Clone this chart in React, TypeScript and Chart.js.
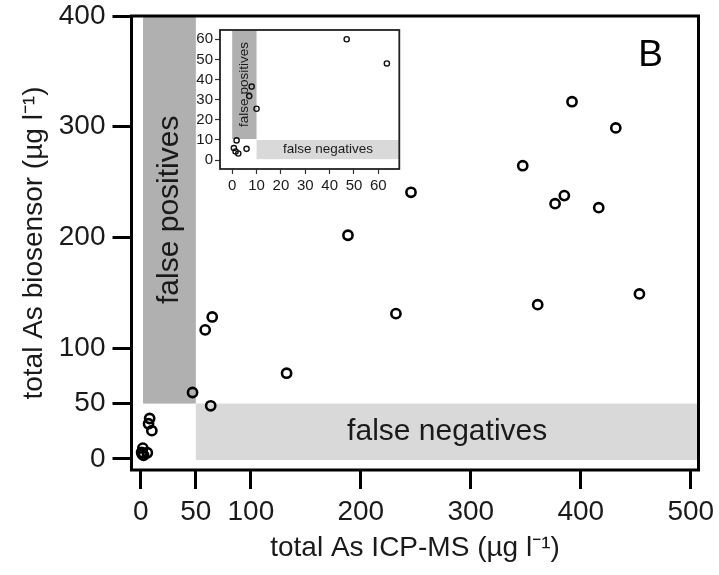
import React, { useEffect, useRef } from "react";
import { Chart, registerables } from "chart.js";

Chart.register(...registerables);

// ---- data (µg/l) ----
const ICPMS = [0.7, 1.4, 1.8, 2.5, 5.9, 7, 8, 10, 47, 63.5, 58.5, 64.9, 132.5, 188.3, 231.9, 245.6, 347.2, 360.8, 376.6, 385, 392, 416.3, 431.8, 453.3];
const BIOSENSOR = [6, 4.3, 9.8, 3.3, 5.6, 31.8, 36.5, 25.5, 60, 48, 116.5, 128.2, 77.4, 202, 131.2, 240.8, 264.8, 139.3, 230.5, 237.8, 322.6, 226.9, 298.9, 149];

// ---- main axes ----
const X_TICKS = [0, 50, 100, 200, 300, 400, 500];
const Y_TICKS = [0, 50, 100, 200, 300, 400];
const X_RANGE = [-8.5, 507];
const Y_RANGE = [-10, 400];

// shaded regions (main)
const FP_X = [2, 50];
const FP_Y = [50, 400];
const FN_X = [50, 507];
const FN_Y = [-1, 50];

// ---- inset axes ----
const INSET_X_TICKS = [0, 10, 20, 30, 40, 50, 60];
const INSET_Y_TICKS = [0, 10, 20, 30, 40, 50, 60];
const INSET_X_RANGE = [-5, 68.6];
const INSET_Y_RANGE = [-4.4, 64.6];
const INSET_FP_X = [0, 10];
const INSET_FP_Y = [10.5, 64.6];
const INSET_FN_X = [10, 68.6];
const INSET_FN_Y = [0.5, 10];

const X_TITLE = "total As ICP-MS (µg l⁻¹)";
const Y_TITLE = "total As biosensor (µg l⁻¹)";
const FP_LABEL = "false positives";
const FN_LABEL = "false negatives";
const PANEL = "B";

const FONT = "'Liberation Sans', Arial, Helvetica, sans-serif";
const DARK = "#b0b0b0";
const LIGHT = "#d9d9d9";
const TEXT = "#1a1a1a";

function points() {
  return ICPMS.map((x, i) => ({ x, y: BIOSENSOR[i] }));
}

function makeRegionPlugin(opts: {
  fpx: number[]; fpy: number[]; fnx: number[]; fny: number[];
  fontSize: number; frameWidth: number; white: boolean; panel?: boolean;
}) {
  return {
    id: "regions",
    beforeDatasetsDraw(chart: any) {
      const { ctx, chartArea, scales } = chart;
      const x = scales.x, y = scales.y;
      ctx.save();
      if (opts.white) {
        ctx.fillStyle = "#ffffff";
        ctx.fillRect(chartArea.left, chartArea.top, chartArea.right - chartArea.left, chartArea.bottom - chartArea.top);
      }
      const rect = (xs: number[], ys: number[], color: string) => {
        const x0 = x.getPixelForValue(xs[0]);
        const x1 = x.getPixelForValue(xs[1]);
        const y0 = y.getPixelForValue(ys[1]);
        const y1 = y.getPixelForValue(ys[0]);
        ctx.fillStyle = color;
        ctx.fillRect(x0, y0, x1 - x0, y1 - y0);
        return { cx: (x0 + x1) / 2, cy: (y0 + y1) / 2 };
      };
      const fp = rect(opts.fpx, opts.fpy, DARK);
      const fn = rect(opts.fnx, opts.fny, LIGHT);
      ctx.fillStyle = TEXT;
      ctx.font = `${opts.fontSize}px ${FONT}`;
      ctx.textAlign = "center";
      ctx.textBaseline = "middle";
      ctx.fillText(FN_LABEL, fn.cx, fn.cy);
      ctx.save();
      ctx.translate(fp.cx, fp.cy);
      ctx.rotate(-Math.PI / 2);
      ctx.fillText(FP_LABEL, 0, 0);
      ctx.restore();
      if (opts.panel) {
        ctx.font = `37px ${FONT}`;
        ctx.fillStyle = "#000";
        ctx.fillText(PANEL, chartArea.right - 48, chartArea.top + 40);
      }
      ctx.restore();
    },
    afterDatasetsDraw(chart: any) {
      const { ctx, chartArea } = chart;
      ctx.save();
      ctx.strokeStyle = opts.white ? "#222" : "#000";
      ctx.lineWidth = opts.frameWidth;
      ctx.strokeRect(chartArea.left, chartArea.top, chartArea.right - chartArea.left, chartArea.bottom - chartArea.top);
      ctx.restore();
    },
  };
}

export default function App() {
  const mainRef = useRef<HTMLCanvasElement>(null);
  const insetRef = useRef<HTMLCanvasElement>(null);

  useEffect(() => {
    const main = new Chart(mainRef.current!, {
      type: "scatter",
      data: {
        datasets: [{
          data: points(),
          pointRadius: 4.6,
          pointHoverRadius: 4.6,
          borderWidth: 2.6,
          borderColor: "#000",
          backgroundColor: "rgba(0,0,0,0)",
        }],
      },
      options: {
        responsive: false,
        animation: false,
        events: [],
        layout: { padding: { left: 0, top: 16, right: 20.5, bottom: 0 } },
        plugins: { legend: { display: false }, tooltip: { enabled: false } },
        scales: {
          x: {
            type: "linear",
            min: X_RANGE[0],
            max: X_RANGE[1],
            afterBuildTicks: (s: any) => { s.ticks = X_TICKS.map((v) => ({ value: v })); },
            afterFit: (s: any) => { s.height = 105; s.paddingLeft = 0; s.paddingRight = 0; },
            border: { display: false },
            grid: { drawOnChartArea: false, drawTicks: true, tickLength: 19, tickWidth: 3, tickColor: "#000", color: "#000" },
            ticks: { color: TEXT, font: { family: FONT, size: 28 }, padding: 6, maxRotation: 0, autoSkip: false },
            title: { display: true, text: X_TITLE, color: TEXT, font: { family: FONT, size: 28 }, padding: { top: 0, bottom: 10 } },
          },
          y: {
            type: "linear",
            min: Y_RANGE[0],
            max: Y_RANGE[1],
            afterBuildTicks: (s: any) => { s.ticks = Y_TICKS.map((v) => ({ value: v })); },
            afterFit: (s: any) => { s.width = 131.5; s.paddingTop = 0; s.paddingBottom = 0; },
            border: { display: false },
            grid: { drawOnChartArea: false, drawTicks: true, tickLength: 19, tickWidth: 3, tickColor: "#000", color: "#000" },
            ticks: { color: TEXT, font: { family: FONT, size: 28 }, padding: 7, autoSkip: false },
            title: { display: true, text: Y_TITLE, color: TEXT, font: { family: FONT, size: 28 }, padding: { top: 17, bottom: 0 } },
          },
        },
      },
      plugins: [makeRegionPlugin({ fpx: FP_X, fpy: FP_Y, fnx: FN_X, fny: FN_Y, fontSize: 30, frameWidth: 3, white: false, panel: true })],
    } as any);

    const inset = new Chart(insetRef.current!, {
      type: "scatter",
      data: {
        datasets: [{
          data: points(),
          pointRadius: 2.6,
          pointHoverRadius: 2.6,
          borderWidth: 1.4,
          borderColor: "#111",
          backgroundColor: "rgba(0,0,0,0)",
        }],
      },
      options: {
        responsive: false,
        animation: false,
        events: [],
        layout: { padding: { left: 0, top: 8, right: 7.7, bottom: 0 } },
        plugins: { legend: { display: false }, tooltip: { enabled: false } },
        scales: {
          x: {
            type: "linear",
            min: INSET_X_RANGE[0],
            max: INSET_X_RANGE[1],
            afterBuildTicks: (s: any) => { s.ticks = INSET_X_TICKS.map((v) => ({ value: v })); },
            afterFit: (s: any) => { s.height = 31; s.paddingLeft = 0; s.paddingRight = 0; },
            border: { display: false },
            grid: { drawOnChartArea: false, drawTicks: true, tickLength: 5, tickWidth: 1.2, tickColor: "#333", color: "#333" },
            ticks: { color: TEXT, font: { family: FONT, size: 15 }, padding: 3, maxRotation: 0, autoSkip: false },
          },
          y: {
            type: "linear",
            min: INSET_Y_RANGE[0],
            max: INSET_Y_RANGE[1],
            afterBuildTicks: (s: any) => { s.ticks = INSET_Y_TICKS.map((v) => ({ value: v })); },
            afterFit: (s: any) => { s.width = 35; s.paddingTop = 0; s.paddingBottom = 0; },
            border: { display: false },
            grid: { drawOnChartArea: false, drawTicks: true, tickLength: 5, tickWidth: 1.2, tickColor: "#333", color: "#333" },
            ticks: { color: TEXT, font: { family: FONT, size: 15 }, padding: 2, autoSkip: false },
          },
        },
      },
      plugins: [makeRegionPlugin({ fpx: INSET_FP_X, fpy: INSET_FP_Y, fnx: INSET_FN_X, fny: INSET_FN_Y, fontSize: 13.5, frameWidth: 1.8, white: true })],
    } as any);

    return () => {
      main.destroy();
      inset.destroy();
    };
  }, []);

  return (
    <div style={{ position: "absolute", left: 0, top: 0, width: 719, height: 575, background: "#fff" }}>
      <canvas ref={mainRef} width={719} height={575} style={{ position: "absolute", left: 0, top: 0, width: 719, height: 575 }} />
      <canvas ref={insetRef} width={222} height={178} style={{ position: "absolute", left: 185, top: 22, width: 222, height: 178 }} />
    </div>
  );
}
